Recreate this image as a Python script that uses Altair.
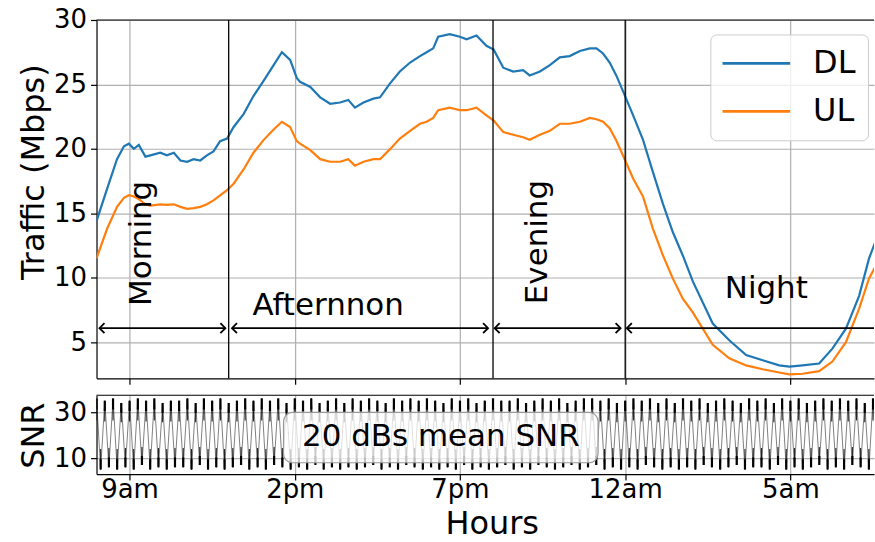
import altair as alt
import pandas as pd

FONT = "DejaVu Sans"
GRID = "#b0b0b0"

# ---- traffic (Mbps) ----
hours = [8.00, 8.32, 8.62, 8.83, 8.98, 9.13, 9.28, 9.48, 9.63, 9.93,
         10.13, 10.34, 10.54, 10.74, 10.94, 11.14, 11.34, 11.54, 11.74, 11.95,
         12.15, 12.45, 12.75, 13.06, 13.36, 13.61, 13.86, 14.06, 14.16, 14.47,
         14.77, 15.07, 15.37, 15.62, 15.82, 16.08, 16.38, 16.58, 16.89, 17.18,
         17.49, 17.79, 17.99, 18.19, 18.34, 18.69, 19.00, 19.20, 19.50, 19.80,
         20.02, 20.31, 20.61, 20.91, 21.11, 21.42, 21.72, 22.02, 22.32, 22.63,
         22.93, 23.13, 23.33, 23.53, 23.73, 23.93, 24.24, 24.54, 24.84, 25.14,
         25.44, 25.74, 26.05, 26.65, 27.15, 27.66, 28.16, 28.66, 28.97, 29.37,
         29.87, 30.27, 30.68, 31.08, 31.38, 31.60]
dl_mbps = [14.4, 16.9, 19.2, 20.2, 20.4, 20.0, 20.3, 19.4, 19.5, 19.7,
           19.5, 19.7, 19.1, 19.0, 19.2, 19.1, 19.5, 19.8, 20.6, 20.8,
           21.7, 22.7, 24.1, 25.3, 26.5, 27.5, 26.9, 25.5, 25.2, 24.8,
           24.0, 23.5, 23.6, 23.8, 23.2, 23.6, 23.9, 24.0, 25.1, 26.0,
           26.7, 27.2, 27.5, 27.8, 28.7, 28.9, 28.7, 28.5, 28.8, 28.0,
           27.7, 26.3, 26.0, 26.1, 25.7, 26.0, 26.5, 27.1, 27.2, 27.6,
           27.8, 27.8, 27.4, 26.7, 25.7, 24.5, 22.6, 20.7, 18.2, 15.75,
           13.55, 11.75, 9.7, 6.45, 5.15, 4.0, 3.6, 3.2, 3.1, 3.2,
           3.35, 4.5, 6.05, 8.6, 11.5, 13.0]
ul_mbps = [11.5, 13.8, 15.5, 16.2, 16.4, 16.3, 16.1, 15.7, 15.6, 15.7,
           15.65, 15.7, 15.5, 15.35, 15.4, 15.5, 15.7, 16.0, 16.4, 16.8,
           17.3, 18.4, 19.7, 20.7, 21.5, 22.1, 21.7, 20.6, 20.4, 19.9,
           19.2, 19.0, 19.0, 19.2, 18.7, 19.0, 19.2, 19.2, 20.0, 20.8,
           21.4, 21.95, 22.1, 22.4, 23.0, 23.2, 23.0, 23.0, 23.2, 22.6,
           22.2, 21.3, 21.1, 20.9, 20.7, 21.1, 21.4, 21.95, 21.95, 22.1,
           22.4, 22.3, 22.1, 21.6, 20.65, 19.5, 17.7, 16.3, 13.8, 11.75,
           9.95, 8.4, 7.3, 4.8, 3.75, 3.2, 2.9, 2.65, 2.5, 2.55,
           2.75, 3.5, 5.0, 7.6, 9.95, 11.0]

# ---- SNR (dB), one sample every 7.5 minutes from 8am ----
snr_start_hour = 8.0
snr_step_hour = 0.125
snr_db = [36, 5, 35, 6, 36, 5, 34, 6, 35, 5, 36, 7, 35, 5, 36, 6, 34, 5, 35, 6,
          35, 6, 36, 5, 34, 7, 36, 5, 35, 6, 36, 5, 34, 6, 35, 7, 36, 5, 35, 6,
          36, 5, 35, 7, 36, 6, 34, 5, 36, 6, 35, 5, 36, 7, 34, 5, 35, 6, 36, 5,
          34, 6, 36, 5, 35, 6, 36, 7, 35, 5, 34, 6, 36, 5, 35, 7, 36, 6, 35, 5,
          36, 6, 35, 5, 34, 6, 36, 5, 35, 7, 36, 5, 34, 6, 35, 5, 36, 6, 35, 7,
          35, 5, 36, 6, 34, 5, 35, 7, 36, 6, 35, 5, 36, 6, 34, 7, 35, 5, 36, 6,
          36, 7, 35, 5, 36, 6, 34, 5, 35, 6, 36, 5, 35, 7, 36, 6, 34, 5, 36, 6,
          34, 5, 36, 6, 35, 5, 36, 7, 34, 6, 35, 5, 36, 6, 35, 7, 34, 5, 36, 6,
          35, 6, 36, 5, 34, 7, 36, 5, 35, 6, 36, 5, 34, 6, 35, 7, 36, 5, 35, 6,
          36, 5, 35, 7, 36, 6, 34, 5, 36, 6, 35, 5, 36, 7, 34, 5, 35, 6, 36, 5]
snr_mean = 20

tick_hours = [9, 14, 19, 24, 29]
tick_labels = ["9am", "2pm", "7pm", "12am", "5am"]
traffic_ticks = [5, 10, 15, 20, 25, 30]
snr_ticks = [10, 30]
boundary_hours = [12, 20, 24]

period_names = ["Morning", "Afternnon", "Evening", "Night"]
period_start = [8.09, 12.10, 20.05, 24.05]
period_end = [11.90, 19.85, 23.86, 31.53]
period_end_head = [True, True, True, False]
period_label_hour = [9.66, 15.01, 21.64, 28.27]
period_label_value = [12.67, 7.09, 12.77, 8.41]
period_label_vertical = [True, False, True, False]
arrow_value = 6.09

snr_note = "20 dBs mean SNR"
snr_note_hour = 18.42
snr_note_value = 15.23
snr_box_hours = [13.66, 23.18]
snr_box_values = [7.96, 29.9]

X_DOMAIN = [8.0, 31.53]
TRAFFIC_DOMAIN = [2.2, 30]
SNR_DOMAIN = [3.0, 37.4]

# ---- tables ----
traffic = pd.DataFrame({
    "hour": hours * 2,
    "value": dl_mbps + ul_mbps,
    "series": ["DL"] * len(hours) + ["UL"] * len(hours),
})
snr_df = pd.DataFrame({
    "hour": [snr_start_hour + i * snr_step_hour for i in range(len(snr_db))],
    "value": snr_db,
})
bounds_df = pd.DataFrame({"hour": boundary_hours})
arrows_df = pd.DataFrame({"start": period_start, "end": period_end,
                          "value": [arrow_value] * 4})
lhead_df = pd.DataFrame({"hour": period_start, "value": [arrow_value] * 4})
rhead_df = pd.DataFrame({"hour": [e for e, h in zip(period_end, period_end_head) if h],
                         "value": [arrow_value] * sum(period_end_head)})
labels_df = pd.DataFrame({"hour": period_label_hour, "value": period_label_value,
                          "name": period_names, "vertical": period_label_vertical})
top_df = pd.DataFrame({"value": [TRAFFIC_DOMAIN[1]]})
snr_top_df = pd.DataFrame({"value": [SNR_DOMAIN[1]]})
box_df = pd.DataFrame({"h1": [snr_box_hours[0]], "h2": [snr_box_hours[1]],
                       "v1": [snr_box_values[0]], "v2": [snr_box_values[1]]})
note_df = pd.DataFrame({"hour": [snr_note_hour], "value": [snr_note_value], "text": [snr_note]})

label_expr = " : ".join(f"datum.value == {h} ? '{l}'" for h, l in zip(tick_hours, tick_labels)) + " : ''"

xscale = alt.Scale(domain=X_DOMAIN, nice=False, zero=False)
tscale = alt.Scale(domain=TRAFFIC_DOMAIN, nice=False, zero=False)
sscale = alt.Scale(domain=SNR_DOMAIN, nice=False, zero=False)

common_axis = dict(grid=True, gridColor=GRID, gridWidth=1.2, domainColor="black",
                   domainWidth=1.2, tickColor="black", tickWidth=1.2, tickSize=6,
                   labelColor="black", titleColor="black", titleFontWeight="normal")

x_axis_top = alt.Axis(values=tick_hours, labels=False, title=None, **common_axis)
x_axis_bot = alt.Axis(values=tick_hours, labelExpr=label_expr, labelFontSize=26,
                      labelBaseline="alphabetic", labelPadding=17, labelFlush=False,
                      labelOverlap=False, title="Hours", titleFontSize=32, titleX=396,
                      titleY=59.5, titleAlign="center", titleBaseline="alphabetic",
                      **common_axis)
y_axis_top = alt.Axis(values=traffic_ticks, labelFontSize=26, labelPadding=4,
                      title="Traffic (Mbps)", titleFontSize=32, titleAngle=270,
                      titleX=-53.3, titleY=152, titleAlign="center",
                      titleBaseline="alphabetic", **common_axis)
y_axis_bot = alt.Axis(values=snr_ticks, labelFontSize=26, labelPadding=4,
                      title="SNR", titleFontSize=32, titleAngle=270,
                      titleX=-53.3, titleY=40, titleAlign="center",
                      titleBaseline="alphabetic", **common_axis)


def X(field="hour"):
    return alt.X(f"{field}:Q", scale=xscale, axis=x_axis_top)


def YT(field="value"):
    return alt.Y(f"{field}:Q", scale=tscale, axis=y_axis_top)


lines = alt.Chart(traffic).mark_line(clip=True, strokeWidth=2.2).encode(
    x=X(), y=YT(),
    color=alt.Color("series:N",
                    scale=alt.Scale(domain=["DL", "UL"], range=["#1f77b4", "#ff7f0e"]),
                    legend=alt.Legend(title=None, orient="none", legendX=615, legendY=14.5,
                                      symbolType="M-4,0L4,0", symbolSize=289,
                                      symbolStrokeWidth=2.8, symbolOffset=18,
                                      labelOffset=41, labelFontSize=32, labelFont=FONT,
                                      labelColor="black", padding=12, rowPadding=14,
                                      clipHeight=34,
                                      cornerRadius=6, fillColor="rgba(255,255,255,0.8)",
                                      strokeColor="#cccccc", labelLimit=300)),
    detail="series:N",
)
bound_rules = alt.Chart(bounds_df).mark_rule(color="black", strokeWidth=1.3).encode(x=X())
top_spine = alt.Chart(top_df).mark_rule(color="black", strokeWidth=1.2).encode(y=YT())
arrow_lines = alt.Chart(arrows_df).mark_rule(color="black", strokeWidth=1.7, clip=True).encode(
    x=X("start"), x2="end:Q", y=YT())
lheads = alt.Chart(lhead_df).mark_point(shape="M1,-1L0,0L1,1", size=100, filled=False,
                                        color="black", strokeWidth=1.8, opacity=1).encode(x=X(), y=YT())
rheads = alt.Chart(rhead_df).mark_point(shape="M-1,-1L0,0L-1,1", size=100, filled=False,
                                        color="black", strokeWidth=1.8, opacity=1).encode(x=X(), y=YT())
vlabels = alt.Chart(labels_df).transform_filter("datum.vertical").mark_text(
    angle=270, align="center", baseline="alphabetic", fontSize=31, font=FONT, color="black"
).encode(x=X(), y=YT(), text="name:N")
hlabels = alt.Chart(labels_df).transform_filter("!datum.vertical").mark_text(
    align="center", baseline="alphabetic", fontSize=31, font=FONT, color="black"
).encode(x=X(), y=YT(), text="name:N")

top = alt.layer(lines, bound_rules, top_spine, arrow_lines, lheads, rheads,
                vlabels, hlabels).properties(width=779, height=359)


def XB(field="hour"):
    return alt.X(f"{field}:Q", scale=xscale, axis=x_axis_bot)


def YB(field="value"):
    return alt.Y(f"{field}:Q", scale=sscale, axis=y_axis_bot)


snr_base = alt.Chart(snr_df)
snr_line = snr_base.mark_line(clip=True, color="black", strokeWidth=1,
                              opacity=0.5).encode(x=XB(), y=YB())
snr_spike_long = snr_base.transform_calculate(
    tip=f"datum.value + ({snr_mean} - datum.value) * 0.6"
).mark_rule(clip=True, color="black", strokeWidth=1.1, opacity=0.85).encode(
    x=XB(), y=YB(), y2="tip:Q")
snr_spike_short = snr_base.transform_calculate(
    tip=f"datum.value + ({snr_mean} - datum.value) * 0.3"
).mark_rule(clip=True, color="black", strokeWidth=2.2).encode(
    x=XB(), y=YB(), y2="tip:Q")
snr_spine = alt.Chart(snr_top_df).mark_rule(color="black", strokeWidth=1.2).encode(y=YB())
note_box = alt.Chart(box_df).mark_rect(fill="white", fillOpacity=0.75, stroke="#999999",
                                       strokeWidth=1.2, cornerRadius=9).encode(
    x=XB("h1"), x2="h2:Q", y=YB("v1"), y2="v2:Q")
note_text = alt.Chart(note_df).mark_text(align="center", baseline="alphabetic",
                                         fontSize=31, font=FONT, color="black").encode(
    x=XB(), y=YB(), text="text:N")

bottom = alt.layer(snr_line, snr_spike_long, snr_spike_short, snr_spine, note_box,
                   note_text).properties(width=779, height=79)

chart = alt.vconcat(top, bottom, spacing=17, bounds="flush").properties(
    padding={"left": 16.7, "top": 6.5, "right": 0, "bottom": 2}
).configure_view(stroke=None).configure_axis(labelFont=FONT, titleFont=FONT).configure_text(font=FONT)

chart.save("out.html", embed_options={"renderer": "svg", "actions": False})
